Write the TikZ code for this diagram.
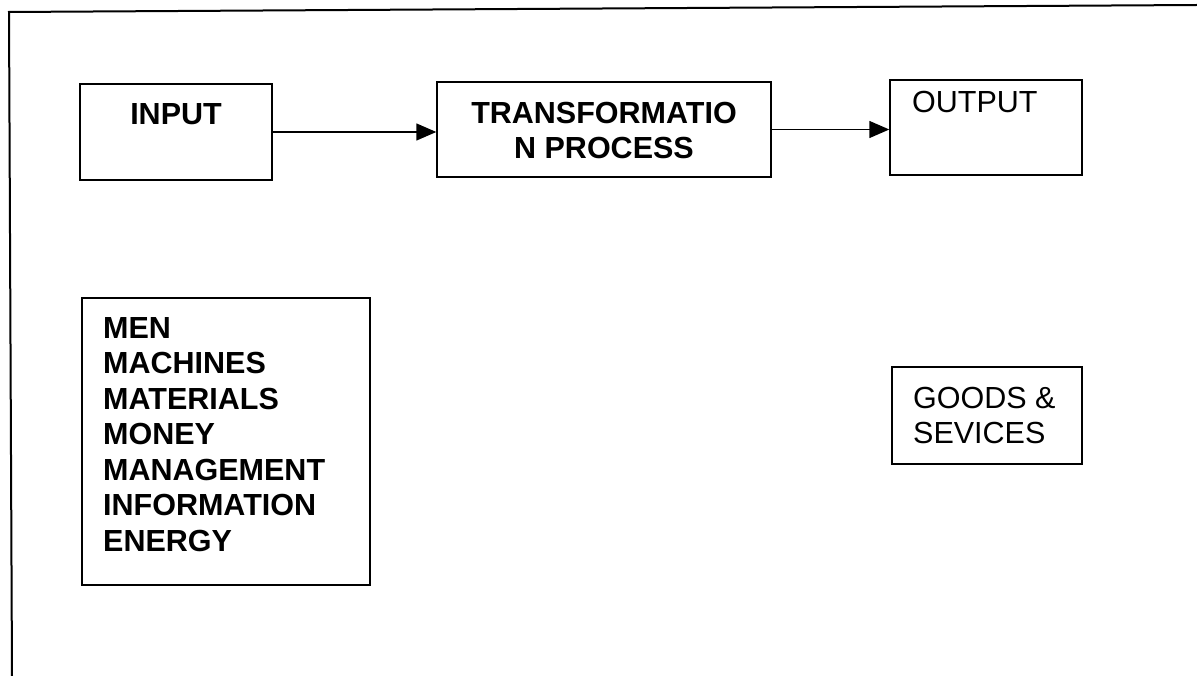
\documentclass[tikz,border=0pt]{standalone}
\usepackage{fontspec}
\setmainfont{Liberation Sans}
\usetikzlibrary{arrows.meta}

\tikzset{
    blk/.style={draw, line width=1.4pt, inner sep=0pt},
    lbl/.style={inner sep=0pt, font=\fontsize{30.5}{35.5}\selectfont\bfseries},
    lblthin/.style={inner sep=0pt, font=\fontsize{30.5}{35}\selectfont},
    flow/.style={line width=1.4pt, -{Triangle[length=20pt, width=17pt]}}
}

\begin{document}
\begin{tikzpicture}[x=1pt, y=-1pt]
    \useasboundingbox (0, 0) rectangle (1197, 676);
    \draw[line width=2pt] (12, 676)--(9, 12)--(1197, 5);

    \node[blk, minimum width=192pt, minimum height=96pt] (input) at (176, 132) {};
    \node[blk, minimum width=334pt, minimum height=95pt] (trans) at (604, 129.5) {};
    \node[blk, minimum width=192pt, minimum height=95pt] (output) at (986, 127.5) {};
    \node[blk, minimum width=288pt, minimum height=287pt] (inlist) at (226, 441.5) {};
    \node[blk, minimum width=190pt, minimum height=97pt] (goods) at (987, 415.5) {};

    \node[lbl, anchor=north] (inputtxt) at (176, 103) {INPUT};
    \node[lbl, anchor=north, align=center] (transtxt) at (604, 102) {TRANSFORMATIO\\N PROCESS};
    \node[lblthin, anchor=north west] (outputtxt) at (912, 91) {OUTPUT};
    \node[lbl, anchor=north west, align=left] (inlisttxt) at (103, 317)
        {MEN\\MACHINES\\MATERIALS\\MONEY\\MANAGEMENT\\INFORMATION\\ENERGY};
    \node[lblthin, anchor=north west, align=left] (goodstxt) at (913, 387) {GOODS \&\\SEVICES};

    \draw[flow] (input.east)--(input.east -| trans.west);
    \draw[flow] (trans.east)--(trans.east -| output.west);
  \end{tikzpicture}
\end{document}
